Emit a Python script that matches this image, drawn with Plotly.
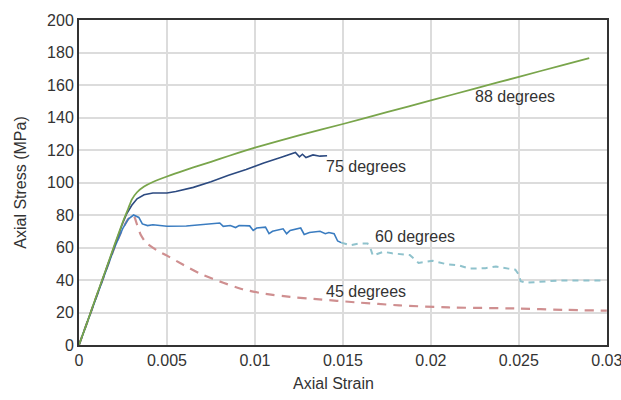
import plotly.graph_objects as go

# 88 degrees
strain_88 = [0, 0.0005, 0.001, 0.0015, 0.002, 0.0025, 0.0028, 0.003, 0.0033, 0.0037, 0.0042, 0.005,
             0.006, 0.007, 0.008, 0.009, 0.01, 0.0125, 0.015, 0.0175, 0.02, 0.0225, 0.025, 0.0275, 0.029]
stress_88 = [0, 15, 30.5, 45.5, 61, 76, 84, 89.5, 94, 97.5, 100.3, 103.7,
             107.5, 111, 114.5, 118.1, 121.5, 129, 136, 143.3, 150.5, 157.8, 165, 172.3, 176.6]

# 75 degrees
strain_75 = [0, 0.001, 0.002, 0.0025, 0.0027, 0.003, 0.0033, 0.0037, 0.0042, 0.005, 0.0055, 0.0065,
             0.0075, 0.0085, 0.0095, 0.0105, 0.0115, 0.0123, 0.01253, 0.0127, 0.0129, 0.0133, 0.0137, 0.0141]
stress_75 = [0, 30.5, 61, 75.5, 80.5, 86, 90, 92.5, 93.5, 93.5, 94.5, 97,
             100.5, 104.5, 108, 112, 115.5, 118.5, 115.8, 117.4, 115.4, 117, 116.2, 116.5]

# 60 degrees (solid part)
strain_60a = [0, 0.001, 0.002, 0.0025, 0.0028, 0.0031, 0.0034, 0.0036, 0.0039, 0.0042, 0.005, 0.0061,
              0.007, 0.008, 0.0082, 0.0086, 0.0089, 0.0091, 0.0097, 0.0099, 0.0101, 0.0106, 0.0108, 0.011,
              0.0116, 0.0118, 0.012, 0.0126, 0.0128, 0.0131, 0.0137, 0.014, 0.0142, 0.0145, 0.0147, 0.0149]
stress_60a = [0, 30, 59.5, 72, 77.5, 80, 78.5, 74.5, 73.5, 74, 73.1, 73.2,
              74, 75.1, 73, 73.5, 72.3, 73.5, 73.3, 70.5, 72, 72.5, 68.5, 70,
              71.5, 68.5, 70.5, 72, 68, 69.2, 70, 68.5, 69.2, 68.5, 64, 63]

# 60 degrees (dashed continuation)
strain_60b = [0.0149, 0.0154, 0.0159, 0.0164, 0.0166, 0.0167, 0.0173, 0.0178, 0.0188, 0.0193, 0.0201,
              0.0209, 0.0216, 0.0222, 0.0231, 0.0237, 0.0244, 0.0248, 0.025, 0.0251, 0.0254, 0.0263,
              0.0273, 0.0299]
stress_60b = [63, 61.4, 62.4, 62.4, 58.4, 55, 57.4, 56.4, 55.4, 50.5, 51.8,
              49.7, 49, 47, 47.3, 48.3, 47, 46.3, 43.3, 39.3, 38.3, 38.9,
              39.7, 39.7]

# 45 degrees
strain_45 = [0, 0.001, 0.002, 0.0025, 0.0028, 0.0031, 0.0033, 0.0035, 0.0038, 0.0044, 0.005, 0.0059,
             0.007, 0.0082, 0.0093, 0.0105, 0.012, 0.0135, 0.0158, 0.0182, 0.021, 0.0248, 0.0277, 0.03]
stress_45 = [0, 30, 59.5, 72, 77.5, 80, 74, 68, 63, 58.4, 55, 49.5,
             43.3, 38.3, 34.3, 31.6, 29.6, 28.2, 26.2, 24.4, 23.1, 22.5, 21.6, 21.1]

labels = ["88 degrees", "75 degrees", "60 degrees", "45 degrees"]
label_x = [0.0224, 0.01395, 0.01673, 0.01395]
label_y = [153, 110, 66.5, 33.2]

x_ticks = [0, 0.005, 0.01, 0.015, 0.02, 0.025, 0.03]
x_ticktext = ["0", "0.005", "0.01", "0.015", "0.02", "0.025", "0.03"]
y_ticks = [0, 20, 40, 60, 80, 100, 120, 140, 160, 180, 200]

fig = go.Figure()
fig.add_trace(go.Scatter(x=strain_45, y=stress_45, mode="lines", line_shape="spline",
                         line=dict(color="#cf8f90", width=2.2, dash="9px,7px", smoothing=0.4)))
fig.add_trace(go.Scatter(x=strain_60b, y=stress_60b, mode="lines",
                         line=dict(color="#8fc2cc", width=2, dash="6px,5px")))
fig.add_trace(go.Scatter(x=strain_60a, y=stress_60a, mode="lines",
                         line=dict(color="#3a7cc0", width=1.6)))
fig.add_trace(go.Scatter(x=strain_75, y=stress_75, mode="lines",
                         line=dict(color="#2c4a80", width=1.6)))
fig.add_trace(go.Scatter(x=strain_88, y=stress_88, mode="lines", line_shape="spline",
                         line=dict(color="#79a54b", width=1.8, smoothing=0.5)))

for t, xv, yv in zip(labels, label_x, label_y):
    fig.add_annotation(x=xv, y=yv, text=t, showarrow=False, xanchor="left", yanchor="middle",
                       font=dict(family="Liberation Sans, Arial", size=16, color="#333"))

fig.add_annotation(x=0.482, y=0, xref="paper", yref="paper", yshift=-38, text="Axial Strain",
                   showarrow=False, xanchor="center", yanchor="middle",
                   font=dict(family="Liberation Sans, Arial", size=16, color="#333"))

fig.update_layout(
    width=621, height=400,
    margin=dict(l=79, r=13, t=14, b=55),
    paper_bgcolor="white", plot_bgcolor="white",
    showlegend=False,
    font=dict(family="Liberation Sans, Arial", size=16, color="#333"),
    xaxis=dict(range=[0, 0.03001], tickvals=x_ticks, ticktext=x_ticktext,
               showgrid=True, gridcolor="#dcdcdc", gridwidth=1.5,
               showline=True, linecolor="#333", linewidth=2, mirror=True,
               ticks="", zeroline=False, tickfont=dict(size=16),
               ticklabeloverflow="allow", automargin=False),
    yaxis=dict(range=[0, 200], tickvals=y_ticks,
               showgrid=True, gridcolor="#dcdcdc", gridwidth=1.5,
               showline=True, linecolor="#333", linewidth=2, mirror=True,
               ticks="", zeroline=False, tickfont=dict(size=16),
               title=dict(text="Axial Stress (MPa)", font=dict(size=16), standoff=16)),
)

fig.write_html("out.html")
